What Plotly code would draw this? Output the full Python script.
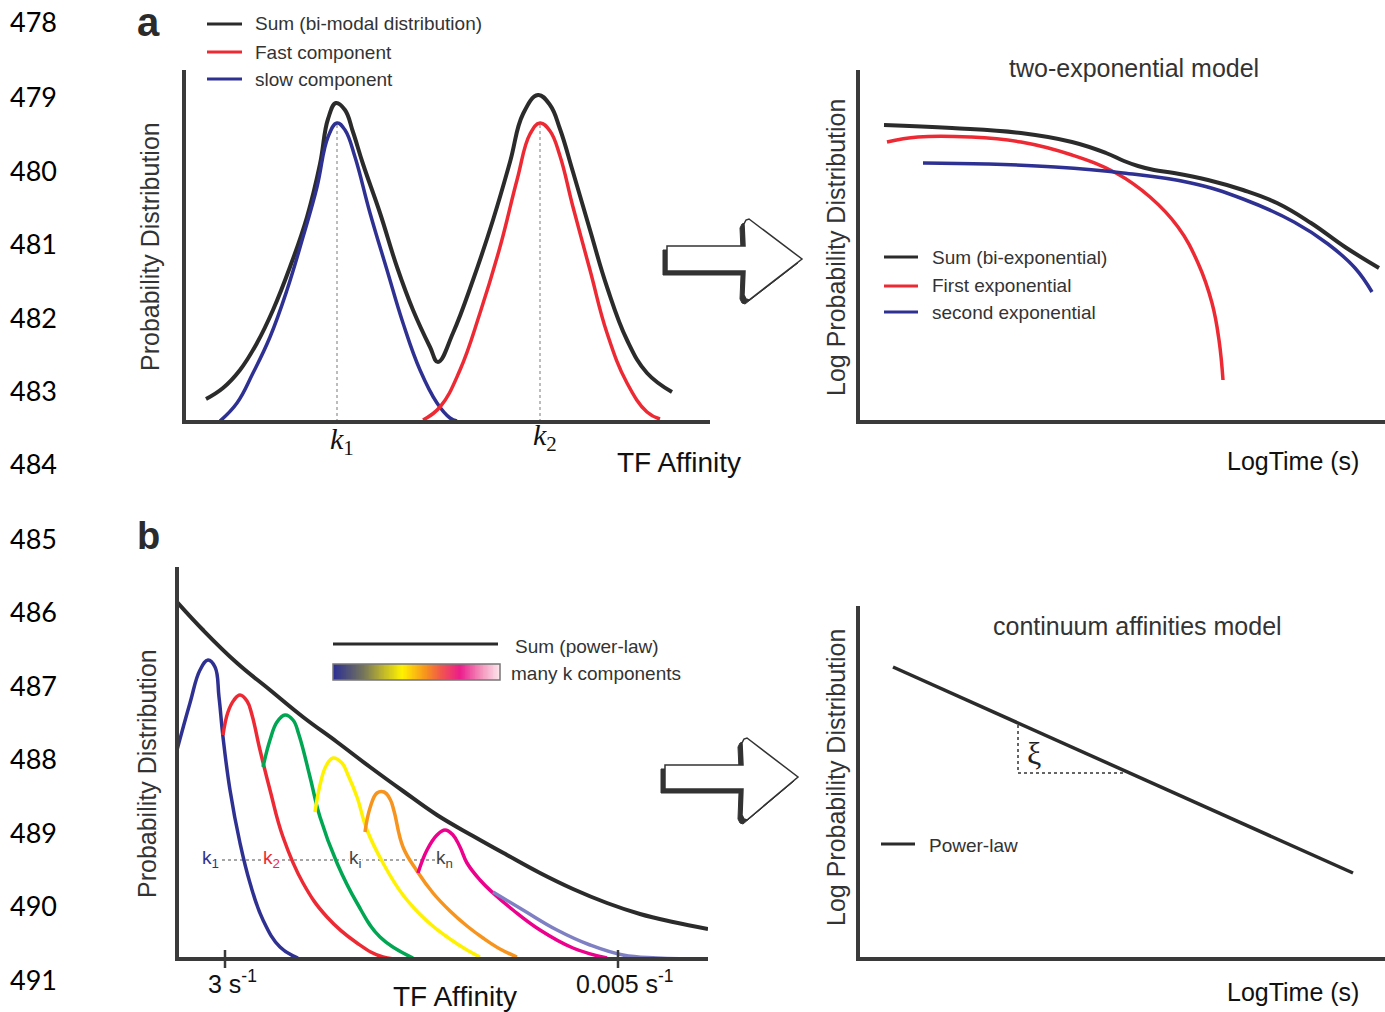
import plotly.graph_objects as go

W, H = 1385, 1012

# ---------------- data (arbitrary units) ----------------
line_numbers = [str(n) for n in range(478, 492)]
line_number_pos = [22, 96, 170, 243, 317, 390, 463, 538, 611, 685, 758, 832, 905, 979]

# Panel a : bimodal TF affinity distribution
a_sum_x = [22, 39, 56, 73, 89, 106, 123, 136, 144, 152, 161, 169, 179, 196, 213, 229, 246, 254,
           269, 289, 309, 326, 339, 354, 366, 376, 389, 406, 423, 443, 463, 488]
a_sum_y = [23, 34, 52, 79, 112, 155, 205, 258, 303, 319, 312, 290, 258, 209, 155, 112, 75, 60,
           89, 142, 202, 260, 308, 327, 317, 293, 250, 192, 135, 82, 49, 30]
a_slow_x = [36, 53, 69, 86, 103, 119, 133, 144, 153, 161, 171, 186, 203, 219, 236, 253, 266, 273]
a_slow_y = [1, 19, 49, 85, 132, 185, 235, 285, 299, 292, 265, 209, 152, 99, 52, 19, 4, 1]
a_fast_x = [239, 256, 276, 296, 316, 333, 346, 356, 366, 376, 389, 406, 423, 443, 463, 476]
a_fast_y = [2, 15, 52, 109, 175, 242, 288, 299, 291, 266, 215, 152, 89, 39, 10, 3]
a_k_pos = [153, 356]
a_k_top = [297, 300]

# Panel a right : two-exponential model (log-log)
e_sum_x = [26, 94, 163, 214, 248, 266, 280, 296, 316, 350, 385, 419, 453, 487, 521]
e_sum_y = [297, 294, 289, 280, 269, 261, 256, 252, 249, 242, 232, 219, 199, 175, 154]
e_first_x = [29, 60, 112, 163, 214, 258, 292, 320, 340, 354, 361, 365]
e_first_y = [280, 285, 285, 280, 267, 249, 225, 195, 159, 119, 82, 42]
e_second_x = [65, 129, 197, 265, 333, 385, 436, 470, 497, 514]
e_second_y = [259, 258, 255, 249, 239, 223, 200, 178, 154, 130]

# Panel b : continuum of affinities
b_sum_x = [0, 26, 60, 93, 126, 160, 193, 226, 260, 296, 330, 363, 396, 430, 463, 496, 531]
b_sum_y = [357, 329, 296, 269, 242, 217, 192, 168, 144, 123, 104, 86, 70, 56, 45, 37, 30]
b_comp_colors = ["#2e3192", "#ed2a33", "#00a651", "#fff200", "#f7941d", "#ec008c", "#7f7fc4"]
b_comp_x = [
    [0, 13, 23, 31, 38, 42, 46, 53, 63, 73, 86, 103, 121],
    [46, 51, 57, 63, 70, 75, 83, 93, 106, 126, 150, 180, 206, 233],
    [86, 93, 100, 108, 116, 122, 133, 143, 160, 180, 203, 236],
    [138, 143, 149, 156, 165, 171, 180, 190, 206, 226, 250, 273, 290, 303],
    [188, 193, 200, 207, 213, 217, 226, 240, 256, 273, 290, 306, 323, 340],
    [241, 250, 260, 268, 276, 283, 290, 303, 316, 336, 363, 396, 430],
    [316, 346, 380, 413, 446, 480, 530],
]
b_comp_y = [
    [209, 256, 289, 299, 292, 262, 222, 169, 116, 76, 39, 12, 1],
    [224, 247, 259, 264, 258, 244, 209, 169, 122, 76, 42, 16, 2, 0],
    [192, 219, 237, 244, 239, 224, 182, 142, 96, 56, 22, 1],
    [147, 174, 193, 201, 196, 184, 162, 129, 96, 64, 38, 20, 9, 2],
    [127, 151, 166, 167, 160, 148, 112, 88, 66, 48, 33, 21, 10, 2],
    [86, 109, 124, 129, 124, 112, 96, 79, 66, 49, 29, 11, 1],
    [67, 49, 29, 14, 4, 1, 0],
]
b_k_labels = ["k<sub>1</sub>", "k<sub>2</sub>", "k<sub>i</sub>", "k<sub>n</sub>"]
b_k_colors = ["#2e3192", "#ed2a33", "#444444", "#444444"]
b_k_x = [33, 94, 178, 267]
b_k_level = 99
b_tick_vals = [48, 441]
b_tick_text = ["3 s<sup>-1</sup>", "0.005 s<sup>-1</sup>"]
grad_vals = list(range(0, 101))

# Panel b right : power law
p_x = [35, 495]
p_y = [292, 86]
xi_x = [160, 160, 268]
xi_y = [234, 186, 186]

# ---------------- figure ----------------
DARK = "#333333"
AX = "#3a3a3a"
FONT = "Liberation Sans"
LW = 4

def fx(px):
    return px / W

def fy(py):
    return 1 - py / H

fig = go.Figure()

def add_line(x, y, color, xa, ya, width=4, dash=None, shape="spline"):
    fig.add_trace(go.Scatter(
        x=x, y=y, mode="lines", xaxis=xa, yaxis=ya, hoverinfo="skip",
        line=dict(color=color, width=width, dash=dash, shape=shape, smoothing=1.2),
    ))

# panel a
add_line(a_sum_x, a_sum_y, "#2b2b2b", "x", "y")
add_line(a_slow_x, a_slow_y, "#2e3192", "x", "y", width=3.5)
add_line(a_fast_x, a_fast_y, "#ed2a33", "x", "y", width=3.5)
for kx, kt in zip(a_k_pos, a_k_top):
    add_line([kx, kx], [0, kt], "#999999", "x", "y", width=1.3, dash="dot", shape="linear")

# panel a right
add_line(e_sum_x, e_sum_y, "#2b2b2b", "x2", "y2")
add_line(e_first_x, e_first_y, "#ed2a33", "x2", "y2", width=3.5)
add_line(e_second_x, e_second_y, "#2e3192", "x2", "y2", width=3.5)

# panel b
add_line([b_k_x[0], b_k_x[-1]], [b_k_level, b_k_level], "#888888", "x3", "y3",
         width=1.3, dash="dot", shape="linear")
for cx, cy, cc in zip(b_comp_x, b_comp_y, b_comp_colors):
    add_line(cx, cy, cc, "x3", "y3", width=3.5)
add_line(b_sum_x, b_sum_y, "#2b2b2b", "x3", "y3")

# panel b right
add_line(p_x, p_y, "#2b2b2b", "x4", "y4", width=3.5, shape="linear")
add_line(xi_x, xi_y, DARK, "x4", "y4", width=1.5, dash="3px,3px", shape="linear")

# gradient swatch
fig.add_trace(go.Heatmap(
    z=[grad_vals], xaxis="x5", yaxis="y5", showscale=False, zsmooth="best",
    hoverinfo="skip",
    colorscale=[[0.0, "#2e3192"], [0.18, "#76765a"], [0.3, "#c2b92a"], [0.41, "#fff200"],
                [0.55, "#f7941d"], [0.64, "#f15a4a"], [0.76, "#ec1c8c"], [0.88, "#f38cb8"],
                [1.0, "#fde6ec"]],
))

# axes: (name, axis-line x px, right px, top px, axis-line y px, data width, data height)
panels = [
    ("", 184, 710, 70, 422, 526, 352),
    ("2", 858, 1385, 70, 422, 527, 352),
    ("3", 177, 708, 567, 959, 531, 392),
    ("4", 858, 1385, 606, 959, 527, 353),
]
HALF = LW / 2
for n, l, r, t, b, dw, dh in panels:
    fig.layout["xaxis" + n] = dict(
        domain=[fx(l + HALF), min(1.0, fx(r))], range=[HALF, dw], anchor="y" + n,
        showline=True, linewidth=LW, linecolor=AX, showgrid=False, zeroline=False,
        showticklabels=False, ticks="", fixedrange=True)
    fig.layout["yaxis" + n] = dict(
        domain=[fy(b - HALF), fy(t)], range=[HALF, dh], anchor="x" + n,
        showline=True, linewidth=LW, linecolor=AX, showgrid=False, zeroline=False,
        showticklabels=False, ticks="", fixedrange=True)

fig.layout["xaxis5"] = dict(domain=[fx(333), fx(500)], anchor="y5", visible=False, fixedrange=True)
fig.layout["yaxis5"] = dict(domain=[fy(680), fy(664)], anchor="x5", visible=False, fixedrange=True)

shapes = []
annotations = []

def text(px, py, s, size=19, color=DARK, xanchor="center", family=FONT, angle=0, **kw):
    annotations.append(dict(
        x=fx(px), y=fy(py), xref="paper", yref="paper", text=s, showarrow=False,
        xanchor=xanchor, yanchor="middle", textangle=angle,
        font=dict(family=family, size=size, color=color), **kw))

def hline(x0, x1, y, color, width=3):
    shapes.append(dict(type="line", xref="paper", yref="paper",
                       x0=fx(x0), x1=fx(x1), y0=fy(y), y1=fy(y),
                       line=dict(color=color, width=width)))

def poly(pts, fill, line_color, line_width):
    path = "M " + " L ".join(f"{fx(x):.5f},{fy(y):.5f}" for x, y in pts) + " Z"
    shapes.append(dict(type="path", xref="paper", yref="paper", path=path,
                       fillcolor=fill, line=dict(color=line_color, width=line_width)))

def arrow(shaft_top, shaft_bot, left, head_x, head_top, head_bot, tip_x, tip_y):
    pts = [(left, shaft_top), (head_x, shaft_top), (head_x - 1, head_top + 5),
           (head_x + 1, head_top + 1), (head_x + 4, head_top), (tip_x, tip_y),
           (head_x + 4, head_bot), (head_x + 1, head_bot - 1), (head_x - 1, head_bot - 5),
           (head_x, shaft_bot), (left, shaft_bot)]
    poly([(x - 4, y + 4) for x, y in pts], "#333333", "#333333", 1)
    poly(pts, "white", "#333333", 1.5)

# line numbers
for s, py in zip(line_numbers, line_number_pos):
    text(8, py, s, size=27, color="black", xanchor="left", family="Lato")

# panel labels
text(148, 22, "<b>a</b>", size=40, color="#2b2b2b")
text(148, 536, "<b>b</b>", size=38, color="#2b2b2b")

# panel a texts
for y, c, s in [(24, "#2b2b2b", "Sum (bi-modal distribution)"),
                (52, "#ed2a33", "Fast component"),
                (79, "#2e3192", "slow component")]:
    hline(207, 242, y, c)
    text(253, y, s, xanchor="left")
text(150, 247, "Probability Distribution", size=25, angle=-90)
text(342, 441, "<i>k</i><sub>1</sub>", size=30, color="#111111", family="Liberation Serif")
text(545, 437, "<i>k</i><sub>2</sub>", size=30, color="#111111", family="Liberation Serif")
text(679, 462, "TF Affinity", size=28, color="#111111")

# panel a right texts
text(1134, 68, "two-exponential model", size=25)
text(836, 248, "Log Probability Distribution", size=25, angle=-90)
text(1293, 461, "LogTime (s)", size=25, color="#111111")
for y, c, s in [(257, "#2b2b2b", "Sum (bi-exponential)"),
                (286, "#ed2a33", "First exponential"),
                (312, "#2e3192", "second exponential")]:
    hline(884, 918, y, c)
    text(930, y, s, xanchor="left")

# panel b texts
text(147, 774, "Probability Distribution", size=25, angle=-90)
text(455, 996, "TF Affinity", size=28, color="#111111")
hline(333, 498, 644, "#2b2b2b")
text(513, 646, "Sum (power-law)", xanchor="left")
shapes.append(dict(type="rect", xref="paper", yref="paper", x0=fx(333), x1=fx(500),
                   y0=fy(680), y1=fy(664), line=dict(color="#777777", width=1.5)))
text(509, 673, "many k components", xanchor="left")
for s, c, kx in zip(b_k_labels, b_k_colors, b_k_x):
    annotations.append(dict(x=kx, y=b_k_level + 1, xref="x3", yref="y3", text=s,
                            showarrow=False, bgcolor="white", borderpad=0,
                            font=dict(family=FONT, size=19, color=c)))
for tv, tt in zip(b_tick_vals, b_tick_text):
    shapes.append(dict(type="line", xref="x3", yref="paper", x0=tv, x1=tv,
                       y0=fy(950), y1=fy(968), line=dict(color=AX, width=2.5)))
    annotations.append(dict(x=tv + 7, y=fy(982), xref="x3", yref="paper", text=tt,
                            showarrow=False, xanchor="center", yanchor="middle",
                            font=dict(family=FONT, size=25, color="#111111")))

# panel b right texts
text(1137, 626, "continuum affinities model", size=25)
text(836, 778, "Log Probability Distribution", size=25, angle=-90)
text(1293, 992, "LogTime (s)", size=25, color="#111111")
text(1034, 753, "ξ", size=32, color="#222222", family="Liberation Serif")
hline(881, 915, 844, "#2b2b2b")
text(927, 845, "Power-law", xanchor="left")

# arrows
arrow(246, 271, 667, 745, 219, 300, 802, 259)
arrow(765, 789, 665, 743, 738, 820, 798, 777)

fig.update_layout(
    width=W, height=H, margin=dict(l=0, r=0, t=0, b=0),
    paper_bgcolor="white", plot_bgcolor="rgba(0,0,0,0)", showlegend=False,
    shapes=shapes, annotations=annotations,
)

fig.write_html("out.html")
